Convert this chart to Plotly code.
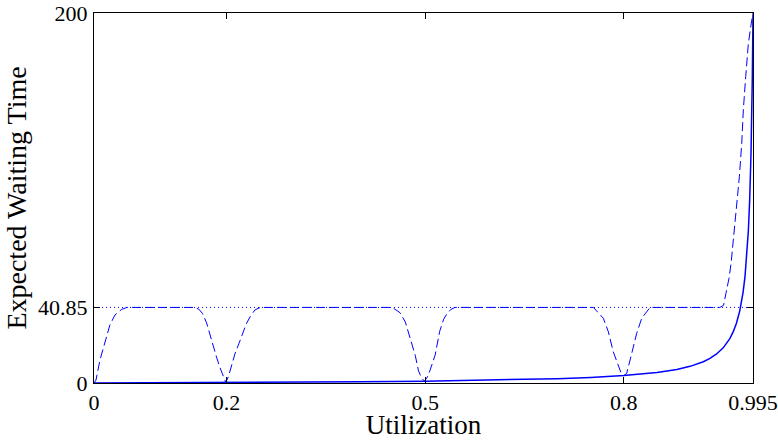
import plotly.graph_objects as go

# ---- data ----
x_ticks = [0, 0.2, 0.5, 0.8, 0.995]
x_tick_labels = ["0", "0.2", "0.5", "0.8", "0.995"]
y_ticks = [0, 40.85, 200]
y_tick_labels = ["0", "40.85", "200"]

level = 40.85
level_x = [0, 0.995]
level_y = [level, level]

solid_x = [0, 0.1, 0.2, 0.3, 0.4, 0.5, 0.6, 0.7, 0.75, 0.8, 0.85, 0.88, 0.9, 0.92,
           0.93, 0.94, 0.95, 0.955, 0.96, 0.965, 0.97, 0.975, 0.98, 0.983, 0.986,
           0.988, 0.99, 0.992, 0.994, 0.995]
solid_y = [0, 0.11, 0.25, 0.43, 0.67, 1.0, 1.5, 2.33, 3.0, 4.0, 5.67, 7.33, 9.0, 11.5,
           13.3, 15.7, 19.0, 21.2, 24.0, 27.6, 32.3, 39.0, 49.0, 57.8, 70.4,
           82.3, 99.0, 124.0, 165.7, 199.0]

dash_x = [0, 0.003, 0.009, 0.0166, 0.024, 0.0317, 0.0418, 0.05,
          0.150, 0.158, 0.164, 0.170, 0.175, 0.180, 0.185, 0.190, 0.195, 0.199,
          0.203, 0.208, 0.213, 0.219, 0.225, 0.230, 0.236, 0.243, 0.251,
          0.450, 0.456, 0.462, 0.470, 0.477, 0.485, 0.490, 0.495, 0.499,
          0.503, 0.507, 0.515, 0.522, 0.528, 0.533, 0.539, 0.545,
          0.754, 0.769, 0.7766, 0.784, 0.7917, 0.797, 0.800,
          0.8043, 0.8119, 0.8194, 0.827, 0.8395,
          0.945, 0.9506, 0.9542, 0.959, 0.962, 0.965, 0.970, 0.9744, 0.978,
          0.9804, 0.984, 0.988, 0.993, 0.995]
dash_y = [0, 1.6, 12.4, 22.3, 31.4, 36.8, 39.8, 40.85,
          40.85, 40.0, 37.5, 32.5, 26.0, 19.5, 14.0, 8.5, 3.5, 0.25,
          3.5, 10.0, 16.0, 21.5, 27.0, 32.0, 36.0, 39.5, 40.85,
          40.85, 39.5, 38.0, 33.0, 24.0, 15.0, 6.5, 2.5, 1.0,
          3.0, 6.5, 15.0, 28.0, 34.5, 37.5, 39.8, 40.85,
          40.85, 35.0, 27.7, 16.9, 8.8, 4.3, 4.0,
          5.2, 16.0, 26.9, 35.0, 40.85,
          40.85, 42.0, 48.5, 57.0, 65.0, 75.5, 93.5, 111.5, 129.5,
          147.6, 165.6, 183.6, 196.0, 200.0]

BLUE = "#0000FF"
FONT = "Liberation Serif"

fig = go.Figure()
fig.add_trace(go.Scatter(x=level_x, y=level_y, mode="lines",
                         line=dict(color=BLUE, width=1, dash="1px,3px"),
                         hoverinfo="skip", showlegend=False))
fig.add_trace(go.Scatter(x=dash_x, y=dash_y, mode="lines",
                         line=dict(color=BLUE, width=1, dash="9px,4px"),
                         showlegend=False))
fig.add_trace(go.Scatter(x=solid_x, y=solid_y, mode="lines",
                         line=dict(color=BLUE, width=1.5),
                         showlegend=False))

axis_common = dict(
    showgrid=False, zeroline=False, showline=True, linecolor="black", linewidth=1,
    mirror="ticks", ticks="inside", ticklen=6, tickcolor="black", tickwidth=1,
    tickfont=dict(family=FONT, size=22, color="black"),
)

fig.update_layout(
    width=778, height=440,
    margin=dict(l=94, r=25, t=13, b=57, autoexpand=False),
    paper_bgcolor="white", plot_bgcolor="white",
    font=dict(family=FONT, color="black"),
    xaxis=dict(range=[0, 0.995], tickvals=x_ticks, ticktext=x_tick_labels,
               title=dict(text="Utilization", font=dict(family=FONT, size=27), standoff=5),
               **axis_common),
    yaxis=dict(range=[0, 200], tickvals=y_ticks, ticktext=y_tick_labels,
               ticklabelstandoff=1,
               title=dict(text="Expected Waiting Time", font=dict(family=FONT, size=28), standoff=3),
               **axis_common),
)

fig.write_html("out.html")
